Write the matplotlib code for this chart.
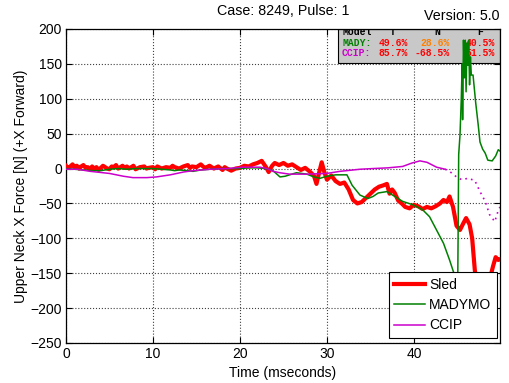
import matplotlib
matplotlib.use("Agg")
import matplotlib.pyplot as plt
from matplotlib.patches import Rectangle

plt.rcParams['font.family'] = ['Liberation Sans', 'DejaVu Sans']

# ---------------- data ----------------
sled_t = [0, 0.25, 0.5, 0.75, 1, 1.25, 1.5, 1.75, 2, 2.25, 2.5, 2.75, 3, 3.25, 3.5, 3.75,
          4, 4.25, 4.5, 4.75, 5, 5.25, 5.5, 5.75, 6, 6.25, 6.5, 6.75, 7, 7.25, 7.5, 7.75,
          8, 8.5, 9, 9.25, 9.5, 10, 10.25, 10.5, 11, 11.5, 12, 12.25, 12.5, 13, 13.5,
          14, 14.25, 14.5, 15, 15.5, 15.75, 16, 16.5, 17, 17.5, 18, 18.25, 18.5, 19,
          19.5, 20, 20.5, 21, 21.5, 22, 22.5, 23, 23.3, 23.7, 24, 24.5, 25,
          25.5, 26, 26.5, 27, 27.5, 28, 28.5, 28.8, 29.1, 29.4, 29.7, 30, 30.5, 31, 31.5,
          32, 32.5, 33, 33.5, 34, 34.5, 35, 35.5, 36, 36.5, 36.9, 37.2, 37.5, 37.8, 38.2,
          38.6, 39, 39.5, 40, 40.5, 41, 41.5, 42, 42.5, 43, 43.4, 43.8, 44.1, 44.5, 44.9,
          45.3, 45.7, 46, 46.4, 46.7, 47, 47.3, 47.7, 48.2, 48.7, 49.1, 49.4, 49.7, 49.9]
sled_v = [4, 1, 3, 6, 2, 4, 0, 3, 5, 1, 2, -1, 3, 0, 2, -2,
          1, 4, 2, 0, -1, 3, 2, 5, 0, 2, 4, 1, 3, 0, 2, 4,
          -1, 2, 3, 0, 1, 2, -1, 3, 0, 2, 1, 4, 2, 0, 3,
          5, 1, 3, 2, 6, 3, 1, 4, 0, 3, -2, 2, 0, -3,
          0, 1, 4, 3, 6, 8, 11, 2, -5, 4, 8, 5, 8,
          4, 6, 2, -2, 1, -4, -10, -22, -6, 9, -5, -16, -10, -18, -22,
          -20, -30, -45, -50, -48, -42, -36, -30, -26, -24, -22, -36, -30, -35, -46,
          -50, -55, -57, -52, -54, -58, -55, -57, -54, -50, -45, -48, -40, -55, -82,
          -88, -78, -71, -80, -100, -145, -175, -190, -185, -160, -140, -127, -131, -130]

mady_t = [0, 1, 2, 3, 4, 5, 6, 7, 8, 9, 10, 11, 12, 12.5, 13, 14, 14.6, 15.5, 16.5, 18,
          19, 20, 21, 22, 23, 23.8, 24.6, 25.2, 25.7, 26.5, 27.7, 28.5, 29.2, 30, 31,
          32.3, 32.9, 33.8, 34.7, 35.3, 35.9, 36.9, 37.8, 38.7, 39.9, 41, 41.8, 42.6,
          43.4, 44.1, 44.6, 44.9, 45.0, 45.08, 45.15, 45.3, 45.45, 45.55, 45.6, 45.7,
          45.8, 45.9, 46.0, 46.1, 46.2, 46.3, 46.4, 46.5, 46.6, 46.8, 47.1, 47.4, 47.6,
          47.9, 48.2, 48.5, 49.0, 49.4, 49.7, 49.9]
mady_v = [0, -1, -2, -3, -3, -1, 0, -1, 0, 0, 0, -1, -2, -3, -2, -3, -4, -2, -1, 0,
          0, 0, 1, 1, 0, -3, -12, -11, -9, -6, -8, -12, -14, -11, -9,
          -9, -24, -38, -43, -40, -35, -33, -40, -47, -52, -59, -69, -88,
          -107, -131, -150, -190, -230, -100, 20, 48, 100, 150, 70, 184,
          130, 184, 110, 180, 148, 184, 120, 160, 134, 134, 95, 62, 38,
          28, 22, 12, 11, 18, 27, 25]

ccip_t = [0, 1.3, 2.8, 5, 6.6, 7.7, 9.3, 10.4, 12, 13.5, 14.6, 16.6, 18.5, 20.4, 22.3,
          23.1, 23.8, 24.6, 25.7, 27.7, 30, 31.5, 33.8, 35.3, 37, 38.7, 39.8, 40.7, 41.5,
          42.6, 43.6]
ccip_v = [-1, -1, -4, -7, -11, -13, -13, -12, -9, -5, -3, -1, 0, 2, 2,
          0, -4, -6, -8, -8, -7, -4, -1, 0, 1, 3, 8, 11, 9,
          2, -1]
ccip_dot_t = [43.6, 44.1, 44.9, 45.5, 46.2, 47.0, 47.6, 48.2, 48.7, 49.3, 49.7, 49.9]
ccip_dot_v = [-1, -4, -12, -16, -14, -17, -33, -47, -66, -76, -60, -55]

series_names = ['Sled', 'MADYMO', 'CCIP']
table_header = ['Model', 'T', 'N', 'F']
table_rows = [['MADY:', '49.6%', '28.6%', '40.5%'],
              ['CCIP:', '85.7%', '-68.5%', '51.5%']]

xticks = [0, 10, 20, 30, 40]
yticks = [-250, -200, -150, -100, -50, 0, 50, 100, 150, 200]

# ---------------- figure ----------------
fig = plt.figure(figsize=(5.09, 3.83), dpi=100)
ax = fig.add_axes([66/509, 40/383, 434/509, 314/383])

# table box (drawn beneath lines)
ax.add_patch(Rectangle((0.627, 0.892), 0.373, 0.108, transform=ax.transAxes,
                       facecolor='#C8C8C8', edgecolor='black', lw=0.8, zorder=1.2))
mono = dict(family=['Liberation Mono', 'DejaVu Sans Mono'], weight='bold',
            fontsize=7, transform=ax.transAxes, va='center', zorder=1.5, clip_on=True)
ax.text(0.636, 0.990, table_header[0], color='black', ha='left', **mono)
for xx, h in zip([0.753, 0.855, 0.954], table_header[1:]):
    ax.text(xx, 0.990, h, color='black', ha='center', **mono)
row_y = [0.955, 0.924]
name_cols = ['#008000', '#CC00CC']
val_cols = [['#FF0000', '#FF8000', '#FF0000'], ['#FF0000', '#FF0000', '#FF0000']]
for r, row in enumerate(table_rows):
    ax.text(0.636, row_y[r], row[0], color=name_cols[r], ha='left', **mono)
    for c, xx in enumerate([0.788, 0.885, 0.988]):
        ax.text(xx, row_y[r], row[c+1], color=val_cols[r][c], ha='right', **mono)

l1, = ax.plot(sled_t, sled_v, color='#FF0000', lw=3.0, zorder=3, label=series_names[0])
l2, = ax.plot(mady_t, mady_v, color='#008000', lw=1.1, zorder=4, label=series_names[1])
l3, = ax.plot(ccip_t, ccip_v, color='#CC00CC', lw=1.1, zorder=4, label=series_names[2])
ax.plot(ccip_dot_t, ccip_dot_v, color='#CC00CC', lw=1.2, zorder=4, linestyle=(0, (1, 2.5)))

ax.set_xlim(0, 49.9)
ax.set_ylim(-250, 200)
ax.set_xticks(xticks)
ax.set_yticks(yticks)
ax.tick_params(direction='in', length=4, width=0.8, top=True, right=True,
               labelsize=10, pad=3)
ax.grid(True, linestyle=':', color='#404040', lw=0.8)
ax.set_axisbelow(True)
for s in ax.spines.values():
    s.set_linewidth(0.9)

ax.set_xlabel('Time (mseconds)', fontsize=10)
ax.set_ylabel('Upper Neck X Force [N] (+X Forward)', fontsize=10)
ax.yaxis.set_label_coords(-0.088, 0.5)
ax.xaxis.set_label_coords(0.5, -0.072)

leg = ax.legend(handles=[l1, l2, l3], loc='lower right', bbox_to_anchor=(0.993, 0.016),
                borderaxespad=0, fontsize=10, fancybox=False, framealpha=1,
                edgecolor='black', handlelength=2.2, labelspacing=0.45,
                handletextpad=0.3, borderpad=0.4)
leg.get_frame().set_linewidth(0.8)
leg.set_zorder(10)

fig.text(283/509, 1 - 11/383, 'Case: 8249, Pulse: 1', ha='center', va='center', fontsize=10.3)
fig.text(500/509, 1 - 16/383, 'Version: 5.0', ha='right', va='center', fontsize=10.3)

fig.savefig('out.png', dpi=100)
